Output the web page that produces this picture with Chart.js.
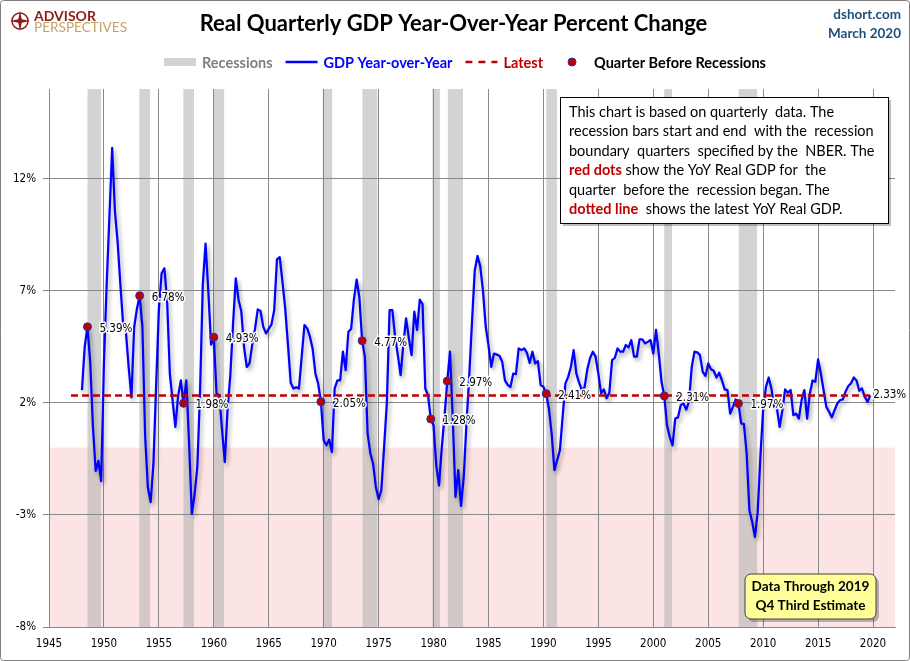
<!DOCTYPE html>
<html>
<head>
<meta charset="utf-8">
<title>Real Quarterly GDP Year-Over-Year Percent Change</title>
<script src="https://cdn.jsdelivr.net/npm/chart.js@4.4.1/dist/chart.umd.min.js"></script>
<style>
  html, body { margin: 0; padding: 0; background: #fff; }
  canvas { display: block; }
</style>
</head>
<body>
<canvas id="gdpChart" width="910" height="661"></canvas>
<script>
// quarterly series starts 1948 Q1, one row per year (Q1..Q4)
const firstYear = 1948;
const gdpYoY = [
  2.57, 4.50, 5.39, 3.84,    // 1948
  0.94, -1.04, -0.59, -1.49, // 1949
  3.77, 7.30, 10.31, 13.37,  // 1950
  10.56, 9.15, 7.26, 5.48,   // 1951
  5.17, 3.60, 2.24, 5.36,    // 1952
  6.19, 6.78, 5.42, 0.52,    // 1953
  -1.78, -2.43, -0.77, 2.73, // 1954
  6.17, 7.78, 8.00, 6.56,    // 1955
  3.30, 2.10, 0.93, 2.30,    // 1956
  3.00, 1.98, 3.00, 0.20,    // 1957
  -2.95, -2.10, -0.86, 2.50, // 1958
  7.30, 9.10, 7.00, 4.60,    // 1959
  4.93, 2.40, 2.35, 0.80,    // 1960
  -0.64, 1.70, 3.20, 5.50,   // 1961
  7.55, 6.60, 6.10, 4.50,    // 1962
  3.60, 3.76, 4.60, 5.30,    // 1963
  6.17, 6.10, 5.40, 5.10,    // 1964
  5.30, 5.50, 6.14, 8.40,    // 1965
  8.50, 7.40, 6.20, 4.60,    // 1966
  2.90, 2.64, 2.70, 2.64,    // 1967
  4.06, 5.47, 5.32, 4.95,    // 1968
  4.40, 3.30, 2.86, 2.05,    // 1969
  0.33, 0.11, 0.36, -0.19,   // 1970
  2.64, 3.00, 3.00, 4.28,    // 1971
  3.46, 5.17, 5.30, 6.60,    // 1972
  7.50, 6.70, 4.77, 4.06,    // 1973
  0.63, -0.26, -0.71, -1.75, // 1974
  -2.30, -1.90, 0.03, 2.00,  // 1975
  6.14, 6.14, 4.95, 4.13,    // 1976
  3.24, 4.60, 5.77, 4.90,    // 1977
  4.13, 6.07, 5.25, 6.60,    // 1978
  6.40, 2.64, 2.34, 1.28,    // 1979
  1.00, -0.80, -1.68, 0.00,  // 1980
  1.40, 2.97, 4.28, 1.30,    // 1981
  -2.20, -1.00, -2.60, -1.30,// 1982
  1.10, 3.20, 5.60, 7.90,    // 1983
  8.55, 8.10, 7.00, 5.40,    // 1984
  4.57, 3.60, 4.20, 4.15,    // 1985
  4.10, 3.83, 3.00, 2.80,    // 1986
  2.70, 3.30, 3.28, 4.43,    // 1987
  4.35, 4.43, 4.23, 3.78,    // 1988
  4.28, 3.76, 3.86, 2.79,    // 1989
  2.72, 2.41, 1.75, 0.63,    // 1990
  -1.00, -0.56, -0.12, 1.38, // 1991
  2.86, 3.16, 3.60, 4.35,    // 1992
  3.30, 2.90, 2.57, 2.70,    // 1993
  3.50, 4.00, 4.28, 4.06,    // 1994
  3.30, 2.42, 2.60, 2.20,    // 1995
  2.45, 3.90, 4.00, 4.43,    // 1996
  4.28, 4.28, 4.58, 4.47,    // 1997
  4.80, 4.06, 4.06, 4.83,    // 1998
  4.83, 4.65, 4.72, 4.80,    // 1999
  4.20, 5.25, 4.20, 2.94,    // 2000
  2.31, 1.00, 0.48, 0.10,    // 2001
  1.30, 1.35, 1.90, 1.97,    // 2002
  1.70, 2.05, 3.60, 4.28,    // 2003
  4.25, 4.13, 3.38, 3.20,    // 2004
  3.76, 3.50, 3.43, 3.13,    // 2005
  3.34, 3.00, 2.60, 2.57,    // 2006
  1.52, 1.82, 2.15, 1.97,    // 2007
  1.08, 1.05, -0.26, -2.80,  // 2008
  -3.30, -3.98, -2.90, -0.40,// 2009
  1.70, 2.70, 3.13, 2.64,    // 2010
  1.82, 1.75, 0.93, 1.67,    // 2011
  2.60, 2.45, 2.57, 1.45,    // 2012
  1.52, 1.30, 2.12, 2.57,    // 2013
  1.30, 2.42, 3.00, 2.94,    // 2014
  3.94, 3.31, 2.57, 1.82,    // 2015
  1.60, 1.35, 1.67, 1.97,    // 2016
  2.12, 2.15, 2.50, 2.75,    // 2017
  2.87, 3.13, 3.00, 2.54,    // 2018
  2.64, 2.27, 2.04, 2.33     // 2019
];

// recession bars (decimal years, as drawn)
const recessionStart = [1948.5, 1953.22, 1957.23, 1960.0, 1969.92, 1973.53, 1979.9, 1981.3, 1990.26, 2001.0, 2007.78];
const recessionEnd   = [1949.74, 1954.2, 1958.2, 1960.94, 1970.77, 1974.88, 1980.58, 1982.68, 1991.23, 2001.71, 2009.45];

// quarter before each recession
const dotDates  = [1948.5, 1953.25, 1957.25, 1960.0, 1969.75, 1973.5, 1979.75, 1981.25, 1990.25, 2001.0, 2007.75];
const dotValues = [5.39, 6.78, 1.98, 4.93, 2.05, 4.77, 1.28, 2.97, 2.41, 2.31, 1.97];

const latestValue = 2.33;
const latestFrom = 1947.0;

const xTickYears = [1945, 1950, 1955, 1960, 1965, 1970, 1975, 1980, 1985, 1990, 1995, 2000, 2005, 2010, 2015, 2020];
const yTickValues = [-8, -3, 2, 7, 12];

const noteLines = [
  [['This chart is based on quarterly  data. The', 0]],
  [['recession bars start and end  with the  recession', 0]],
  [['boundary  quarters  specified by the  NBER. The', 0]],
  [['red dots', 1], [' show the YoY Real GDP for  the', 0]],
  [['quarter  before the  recession began. The', 0]],
  [['dotted line', 1], ['  shows the latest YoY Real GDP.', 0]]
];

const gdpPoints = gdpYoY.map((v, i) => ({ x: firstYear + i / 4, y: v }));
const lastDate = gdpPoints[gdpPoints.length - 1].x;
const dotPoints = dotDates.map((d, i) => ({ x: d, y: dotValues[i] }));

const axisFont = "'DejaVu Sans Condensed', 'DejaVu Sans', sans-serif";
const gridGray = '#888888';
const darkRed = '#C00000';

const decor = {
  id: 'decor',
  beforeDraw(chart) {
    const { ctx, chartArea: a, scales: { x, y } } = chart;
    ctx.save();
    ctx.fillStyle = '#fff';
    ctx.fillRect(0, 0, chart.width, chart.height);
    // shaded area below zero
    const y0 = y.getPixelForValue(0);
    ctx.fillStyle = '#FDE4E4';
    ctx.fillRect(a.left, y0, a.right - a.left, a.bottom - y0);
    // recessions
    ctx.fillStyle = 'rgba(182,182,182,0.6)';
    recessionStart.forEach((s, i) => {
      const x1 = x.getPixelForValue(s);
      const x2 = x.getPixelForValue(recessionEnd[i]);
      ctx.fillRect(x1, a.top, x2 - x1, a.bottom - a.top);
    });
    ctx.restore();
  },
  beforeDatasetDraw(chart, args) {
    if (args.index === 2) {
      const ctx = chart.ctx;
      ctx.save();
      ctx.shadowColor = 'rgba(0,0,0,0.35)';
      ctx.shadowBlur = 4;
      ctx.shadowOffsetX = 2;
      ctx.shadowOffsetY = 3;
    }
  },
  afterDatasetDraw(chart, args) {
    if (args.index === 2) chart.ctx.restore();
  },
  afterDatasetsDraw(chart) {
    const ctx = chart.ctx;
    ctx.save();
    ctx.font = '11.5px ' + axisFont;
    ctx.textBaseline = 'middle';
    ctx.lineJoin = 'round';
    const halo = (t, px, py) => {
      ctx.lineWidth = 3;
      ctx.strokeStyle = 'rgba(255,255,255,0.95)';
      ctx.strokeText(t, px, py);
      ctx.fillStyle = '#000';
      ctx.fillText(t, px, py);
    };
    chart.getDatasetMeta(0).data.forEach((pt, i) => {
      halo(dotValues[i].toFixed(2) + '%', pt.x + 12, pt.y + 2);
    });
    const lat = chart.getDatasetMeta(1).data[1];
    halo(latestValue.toFixed(2) + '%', lat.x + 3, lat.y);
    ctx.restore();
  },
  afterDraw(chart) {
    const ctx = chart.ctx;
    ctx.save();

    // logo
    ctx.strokeStyle = '#8B1C1C';
    ctx.fillStyle = '#8B1C1C';
    ctx.lineWidth = 1.5;
    ctx.beginPath();
    ctx.arc(20, 21, 8, 0, Math.PI * 2);
    ctx.stroke();
    ctx.beginPath();
    for (let k = 0; k < 8; k++) {
      const ang = k * Math.PI / 4 - Math.PI / 2;
      const r = k % 2 === 0 ? 10 : 2.5;
      ctx.lineTo(20 + r * Math.cos(ang), 21 + r * Math.sin(ang));
    }
    ctx.closePath();
    ctx.fill();
    ctx.textBaseline = 'alphabetic';
    ctx.textAlign = 'left';
    ctx.font = 'bold 14px Lato';
    ctx.fillText('ADVISOR', 34, 20.5);
    ctx.fillStyle = '#C6A267';
    ctx.font = '13.6px Lato';
    ctx.fillText('PERSPECTIVES', 34, 31.5);

    // source
    ctx.textAlign = 'right';
    ctx.textBaseline = 'middle';
    ctx.fillStyle = '#1F4E79';
    ctx.font = 'bold 13.5px Lato';
    ctx.fillText('dshort.com', 901, 15);
    ctx.fillText('March 2020', 901, 34);

    // legend
    ctx.textAlign = 'left';
    ctx.font = 'bold 14.5px Lato';
    const items = [
      ['Recessions', '#7F7F7F', 'box'],
      ['GDP Year-over-Year', '#0000FF', 'line'],
      ['Latest', darkRed, 'dash'],
      ['Quarter Before Recessions', '#000000', 'dot']
    ];
    const sym = 32, gap = 6, sep = 13, ly = 62;
    let total = 0;
    items.forEach(it => { total += sym + gap + ctx.measureText(it[0]).width; });
    total += sep * (items.length - 1);
    let lx = 465 - total / 2;
    items.forEach(([txt, col, kind]) => {
      if (kind === 'box') {
        ctx.fillStyle = '#D3D3D3';
        ctx.fillRect(lx, ly - 4, sym, 8);
      } else if (kind === 'line' || kind === 'dash') {
        ctx.strokeStyle = col;
        ctx.lineWidth = 2.5;
        ctx.setLineDash(kind === 'dash' ? [7, 6] : []);
        ctx.beginPath();
        ctx.moveTo(lx, ly);
        ctx.lineTo(lx + sym, ly);
        ctx.stroke();
        ctx.setLineDash([]);
      } else {
        ctx.fillStyle = darkRed;
        ctx.strokeStyle = '#3030A0';
        ctx.lineWidth = 1;
        ctx.beginPath();
        ctx.arc(lx + sym / 2, ly, 4, 0, Math.PI * 2);
        ctx.fill();
        ctx.stroke();
      }
      ctx.fillStyle = col;
      ctx.fillText(txt, lx + sym + gap, ly + 1);
      lx += sym + gap + ctx.measureText(txt).width + sep;
    });

    // note box
    const bx = 560, by = 97, bw = 328, bh = 126;
    ctx.fillStyle = 'rgba(0,0,0,0.25)';
    ctx.fillRect(bx + 3, by + 3, bw, bh);
    ctx.fillStyle = '#fff';
    ctx.fillRect(bx, by, bw, bh);
    ctx.strokeStyle = '#000';
    ctx.lineWidth = 1;
    ctx.strokeRect(bx + 0.5, by + 0.5, bw, bh);
    noteLines.forEach((segs, li) => {
      let tx = 569;
      const ty = 112 + li * 19.5;
      segs.forEach(([t, red]) => {
        ctx.font = red ? 'bold 14.5px Lato' : '14.5px Lato';
        ctx.fillStyle = red ? darkRed : '#000';
        ctx.fillText(t, tx, ty);
        tx += ctx.measureText(t).width;
      });
    });

    // data-through box
    const yx = 745, yy = 574, yw = 131, yh = 45;
    ctx.fillStyle = 'rgba(0,0,0,0.25)';
    ctx.beginPath();
    ctx.roundRect(yx + 3, yy + 3, yw, yh, 6);
    ctx.fill();
    ctx.fillStyle = '#FFFF99';
    ctx.strokeStyle = '#404040';
    ctx.beginPath();
    ctx.roundRect(yx, yy, yw, yh, 6);
    ctx.fill();
    ctx.stroke();
    ctx.fillStyle = '#000';
    ctx.textAlign = 'center';
    ctx.font = 'bold 13.6px Lato';
    ctx.fillText('Data Through 2019', yx + yw / 2, 587);
    ctx.fillText('Q4 Third Estimate', yx + yw / 2, 606);

    // outer frame
    ctx.strokeStyle = '#808080';
    ctx.lineWidth = 1;
    ctx.beginPath();
    ctx.roundRect(0.5, 0.5, chart.width - 1, chart.height - 1, 3);
    ctx.stroke();
    ctx.restore();
  }
};

new Chart(document.getElementById('gdpChart').getContext('2d'), {
  type: 'line',
  data: {
    datasets: [
      {
        label: 'Quarter Before Recessions',
        data: dotPoints,
        showLine: false,
        pointRadius: 4,
        pointBackgroundColor: darkRed,
        pointBorderColor: '#3030A0',
        pointBorderWidth: 1
      },
      {
        label: 'Latest',
        data: [{ x: latestFrom, y: latestValue }, { x: lastDate, y: latestValue }],
        borderColor: darkRed,
        borderWidth: 2.5,
        borderDash: [7, 4],
        pointRadius: 0
      },
      {
        label: 'GDP Year-over-Year',
        data: gdpPoints,
        borderColor: '#0000FF',
        borderWidth: 2.25,
        borderJoinStyle: 'round',
        pointRadius: 0,
        tension: 0
      }
    ]
  },
  options: {
    responsive: false,
    animation: false,
    layout: { padding: { left: 12, right: 15, top: 0, bottom: 0 } },
    plugins: {
      legend: { display: false },
      tooltip: { enabled: false },
      title: {
        display: true,
        text: 'Real Quarterly GDP Year-Over-Year Percent Change',
        color: '#000',
        font: { family: 'Lato', weight: 'bold', size: 22, lineHeight: 1.2 },
        padding: { top: 11, bottom: 51.6 }
      }
    },
    scales: {
      x: {
        type: 'linear',
        min: 1945,
        max: 2022,
        afterBuildTicks: s => { s.ticks = xTickYears.map(v => ({ value: v })); },
        afterFit: s => { s.height = 34; },
        ticks: {
          autoSkip: false,
          maxRotation: 0,
          padding: 10,
          color: '#000',
          font: { family: axisFont, size: 11.5 },
          callback: v => String(v)
        },
        grid: { color: gridGray, drawTicks: false },
        border: { color: gridGray }
      },
      y: {
        min: -8,
        max: 16,
        afterBuildTicks: s => { s.ticks = yTickValues.map(v => ({ value: v })); },
        afterFit: s => { s.width = 37; },
        ticks: {
          padding: 7,
          color: '#000',
          font: { family: axisFont, size: 11.5 },
          callback: v => v + '%'
        },
        grid: { color: gridGray, tickLength: 6, tickColor: gridGray },
        border: { color: gridGray }
      }
    }
  },
  plugins: [decor]
});
</script>
</body>
</html>
